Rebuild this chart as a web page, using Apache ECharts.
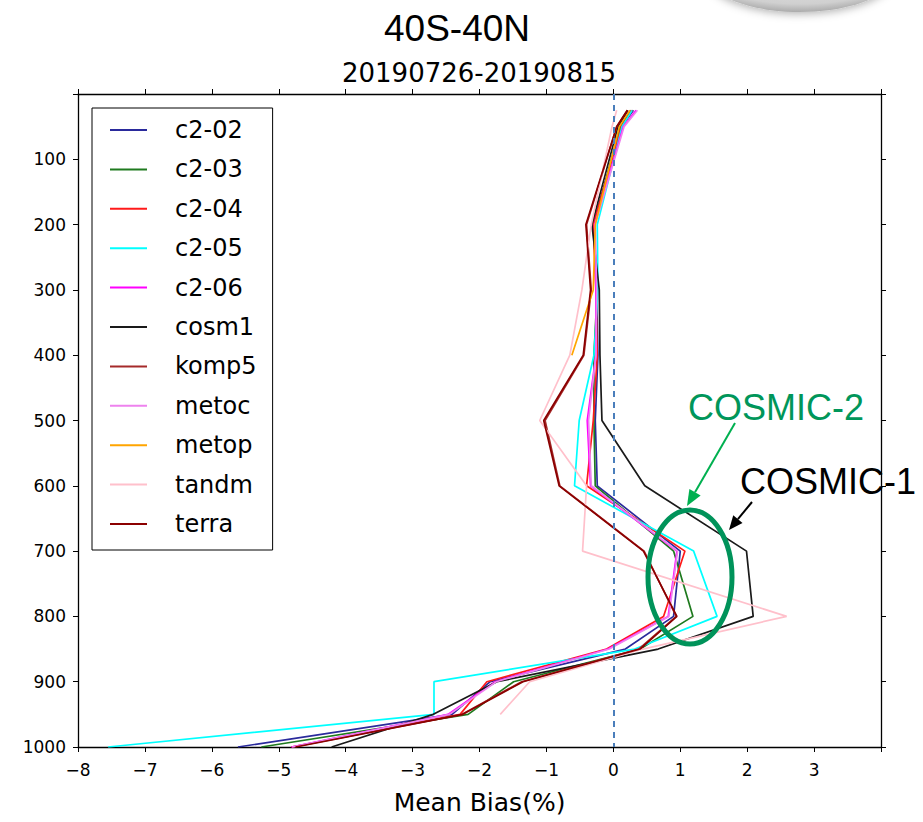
<!DOCTYPE html>
<html>
<head>
<meta charset="utf-8">
<script src="https://cdn.jsdelivr.net/npm/echarts@6/dist/echarts.min.js"></script>
<style>
  html, body { margin: 0; padding: 0; background: #fff; }
  #chart { width: 923px; height: 822px; }
</style>
</head>
<body>
<div id="chart"></div>
<script>
// Pressure levels (hPa) at which each mean bias profile is given
const levels = [25, 50, 200, 300, 400, 500, 600, 700, 800, 850, 900, 950, 1000];

// Mean bias (%) per mission, one value per level (null = no data)
const c2_02 = [0.30, 0.12, -0.30, -0.25, -0.23, -0.27, -0.24, 1.00, 0.90, 0.18, -1.84, -2.41, -5.61];
const c2_03 = [0.27, 0.10, -0.29, -0.24, -0.29, -0.29, -0.27, 0.90, 1.19, 0.40, -1.49, -2.17, -5.26];
const c2_04 = [0.28, 0.12, -0.30, -0.26, -0.24, -0.30, -0.40, 1.07, 0.75, -0.10, -1.89, -2.29, -4.81];
const c2_05 = [0.28, 0.13, -0.24, -0.23, -0.29, -0.51, -0.58, 1.20, 1.55, 0.32, -2.68, -2.68, -7.55];
const c2_06 = [0.34, 0.15, -0.28, -0.26, -0.26, -0.39, -0.34, 0.95, 0.82, -0.08, -1.77, -2.47, -4.81];
const cosm1 = [0.22, 0.07, -0.32, -0.21, -0.20, -0.17, 0.47, 1.99, 2.09, 0.67, -1.74, -2.69, -4.21];
const komp5 = [0.21, 0.05, -0.40, -0.33, -0.44, -1.02, -0.80, 0.46, 0.94, 0.38, -1.37, -2.26, -4.78];
const metoc = [0.36, 0.16, -0.27, -0.25, -0.26, -0.37, -0.33, 0.96, 0.83, -0.06, -1.75, -2.45, -4.80];
const metop = [0.25, 0.09, -0.27, -0.30, -0.62, null, null, null, null, null, null, null, null];
const tandm = [0.05, -0.02, -0.33, -0.47, -0.65, -1.10, -0.40, -0.46, 2.59, 0.44, -1.25, -1.69, null];
const terra = [0.21, 0.05, -0.41, -0.34, -0.45, -1.04, -0.81, 0.45, 0.95, 0.40, -1.35, -2.25, -4.75];

const seriesNames = ['c2-02', 'c2-03', 'c2-04', 'c2-05', 'c2-06', 'cosm1', 'komp5', 'metoc', 'metop', 'tandm', 'terra'];
const seriesValues = [c2_02, c2_03, c2_04, c2_05, c2_06, cosm1, komp5, metoc, metop, tandm, terra];
const seriesColors = ['#2a2a9c', '#1f7a1f', '#ff1a1a', '#00ffff', '#ff00ff', '#1a1a1a', '#a52a2a', '#ee82ee', '#ffa500', '#ffc0cb', '#8b0000'];

// x axis (mean bias %) and y axis (pressure hPa) ranges
const xMin = -8, xMax = 4, xStep = 1;
const yMin = 0, yMax = 1000, yStep = 100;

const MINUS = '\u2212';
const tickFont = { fontFamily: 'DejaVu Sans', fontSize: 17, color: '#000' };

function profile(values) {
  const pts = [];
  values.forEach((v, i) => { if (v !== null) pts.push([v, levels[i]]); });
  return pts;
}

const series = seriesNames.map((name, i) => ({
  name: name,
  type: 'line',
  data: profile(seriesValues[i]),
  symbol: 'none',
  color: seriesColors[i],
  lineStyle: { width: 1.7, color: seriesColors[i] },
  animation: false,
  z: 3
}));

// zero-bias reference line
series[0].markLine = {
  silent: true,
  symbol: 'none',
  label: { show: false },
  lineStyle: { type: [6, 5], width: 2, color: '#4a7ebb' },
  data: [{ xAxis: 0 }]
};

const axisLine = { show: true, onZero: false, lineStyle: { color: '#000', width: 1.3 } };
const axisTick = { show: true, inside: false, length: 5, lineStyle: { color: '#000', width: 1 } };

// arrow helper for the annotations
function arrow(x1, y1, x2, y2, color, width, headLen, headWid) {
  const dx = x2 - x1, dy = y2 - y1;
  const len = Math.sqrt(dx * dx + dy * dy);
  const ux = dx / len, uy = dy / len;
  const bx = x2 - ux * headLen, by = y2 - uy * headLen;
  const px = -uy * headWid / 2, py = ux * headWid / 2;
  return [
    { type: 'line', shape: { x1: x1, y1: y1, x2: bx, y2: by }, style: { stroke: color, lineWidth: width }, z: 10 },
    { type: 'polygon', shape: { points: [[x2, y2], [bx + px, by + py], [bx - px, by - py]] }, style: { fill: color }, z: 10 }
  ];
}

const option = {
  backgroundColor: '#fff',
  animation: false,
  grid: { left: 78, right: 42, top: 94, bottom: 75, containLabel: false },
  legend: {
    data: seriesNames,
    orient: 'vertical',
    left: 92,
    top: 108,
    icon: 'rect',
    itemWidth: 37,
    itemHeight: 2,
    itemGap: 15.4,
    padding: [10, 16, 14, 18],
    backgroundColor: '#fff',
    borderColor: '#000',
    borderWidth: 1,
    borderRadius: 0,
    textStyle: { fontFamily: 'DejaVu Sans', fontSize: 24, color: '#000', lineHeight: 24, padding: [0, 0, 0, 23] },
    selectedMode: false,
    z: 20
  },
  xAxis: [
    {
      type: 'value', position: 'bottom', min: xMin, max: xMax, interval: xStep,
      name: 'Mean Bias(%)', nameLocation: 'middle', nameGap: 43,
      nameTextStyle: { fontFamily: 'DejaVu Sans', fontSize: 25, color: '#000' },
      axisLine: axisLine, axisTick: axisTick,
      axisLabel: Object.assign({ margin: 14, formatter: v => (v === xMax ? '' : String(v).replace('-', MINUS)) }, tickFont),
      splitLine: { show: false }
    },
    {
      type: 'value', position: 'top', min: xMin, max: xMax, interval: xStep,
      axisLine: axisLine, axisTick: axisTick, axisLabel: { show: false }, splitLine: { show: false }
    }
  ],
  yAxis: [
    {
      type: 'value', position: 'left', inverse: true, min: yMin, max: yMax, interval: yStep,
      axisLine: axisLine, axisTick: axisTick,
      axisLabel: Object.assign({ margin: 12, formatter: v => (v === yMin ? '' : String(v)) }, tickFont),
      splitLine: { show: false }
    },
    {
      type: 'value', position: 'right', inverse: true, min: yMin, max: yMax, interval: yStep,
      axisLine: axisLine, axisTick: axisTick, axisLabel: { show: false }, splitLine: { show: false }
    }
  ],
  graphic: [
    // soft grey shape at the top right corner
    { type: 'ellipse', shape: { cx: 800, cy: -28, rx: 96, ry: 40 },
      style: {
        fill: { type: 'radial', x: 0.5, y: 0.3, r: 0.75,
          colorStops: [{ offset: 0, color: '#f4f4f4' }, { offset: 0.8, color: '#d0d0d0' }, { offset: 1, color: '#9a9a9a' }] },
        shadowBlur: 8, shadowColor: 'rgba(0,0,0,0.3)', shadowOffsetY: 2 }, z: 1 },
    { type: 'text', x: 457, y: 28, style: { text: '40S-40N', font: '37px "Liberation Sans"', fill: '#000', align: 'center', verticalAlign: 'middle' }, z: 10 },
    { type: 'text', x: 479, y: 73, style: { text: '20190726-20190815', font: '26px "DejaVu Sans"', fill: '#000', align: 'center', verticalAlign: 'middle' }, z: 10 },
    { type: 'text', x: 776, y: 407, style: { text: 'COSMIC-2', font: '36px "Liberation Sans"', fill: '#00965a', align: 'center', verticalAlign: 'middle' }, z: 10 },
    { type: 'text', x: 740, y: 481, style: { text: 'COSMIC-1', font: '36px "Liberation Sans"', fill: '#000', align: 'left', verticalAlign: 'middle' }, z: 10 },
    { type: 'ellipse', shape: { cx: 690, cy: 577, rx: 42, ry: 67 }, style: { fill: 'none', stroke: '#00935a', lineWidth: 5 }, z: 10 }
  ]
    .concat(arrow(735, 423, 687, 506, '#00b050', 2, 16, 13))
    .concat(arrow(752, 502, 729, 530, '#000', 2, 14, 12)),
  series: series
};

const chart = echarts.init(document.getElementById('chart'), null, { renderer: 'svg' });
chart.setOption(option);
</script>
</body>
</html>
